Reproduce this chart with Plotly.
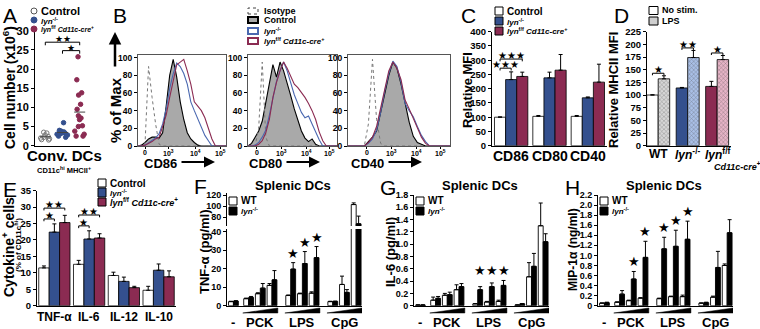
import plotly.graph_objects as go
import numpy as np

W, H = 760, 329
def PX(v): return v / W
def PY(v): return 1 - v / H

FONT = "Liberation Sans, Arial, sans-serif"
STARF = "DejaVu Sans"
BLUE = "#34508e"
RED = "#8b2b52"
HISTGRAY = "#a9a9a9"

# ---------------- DATA ----------------
# Panel A: conventional DC numbers (x10^6)
A_control = [3.5, 3.3, 2.8, 2.4, 2.2, 2.0, 1.8, 1.6, 1.5]
A_lyn = [6.0, 4.0, 3.8, 3.6, 3.5, 3.3, 3.2, 3.0, 2.8, 2.5, 2.2]
A_flox = [23.2, 17.2, 13.8, 13.2, 10.8, 9.5, 7.8, 7.2, 6.8, 5.2, 5.0, 3.8, 3.0, 2.5, 2.5]

# Panel B: histograms (% of max) on a channel grid (0-100 display units)
B_channel = [0, 4, 8, 12, 16, 20, 24, 28, 32, 36, 40, 44, 48, 52, 56, 60, 64, 68, 72, 76, 80, 84, 88, 92, 96, 100]
B_tick_labels = ["0", "10<sup>3</sup>", "10<sup>4</sup>", "10<sup>5</sup>"]
CD86_iso = [0, 0, 3, 90, 55, 25, 2, 0, 0, 0, 0, 0, 0, 0, 0, 0, 0, 0, 0, 0, 0, 0, 0, 0, 0, 0]
CD86_ctrl = [0, 1, 4, 8, 10, 10, 9, 15, 45, 80, 98, 78, 50, 30, 15, 8, 4, 1, 0, 0, 0, 0, 0, 0, 0, 0]
CD86_lyn = [0, 0, 1, 4, 7, 9, 14, 25, 42, 65, 82, 94, 90, 82, 70, 50, 40, 30, 22, 12, 6, 0, 0, 0, 0, 0]
CD86_flox = [0, 0, 1, 3, 5, 8, 10, 22, 35, 55, 75, 92, 95, 98, 85, 70, 50, 45, 40, 32, 20, 8, 0, 0, 0, 0]
CD80_iso = [0, 0, 0, 20, 95, 10, 0, 0, 0, 0, 0, 0, 0, 0, 0, 0, 0, 0, 0, 0, 0, 0, 0, 0, 0, 0]
CD80_ctrl = [0, 3, 10, 17, 28, 48, 72, 92, 78, 95, 85, 72, 57, 42, 28, 17, 9, 5, 8, 2, 0, 0, 0, 0, 0, 0]
CD80_lyn = [0, 0, 1, 4, 10, 18, 35, 55, 73, 85, 95, 85, 72, 58, 48, 38, 32, 34, 25, 15, 7, 0, 0, 0, 0, 0]
CD80_flox = [0, 0, 0, 2, 6, 15, 30, 55, 72, 85, 95, 88, 78, 70, 66, 61, 55, 48, 40, 30, 16, 6, 0, 0, 0, 0]
CD40_iso = [0, 0, 0, 0, 0, 25, 98, 30, 3, 0, 0, 0, 0, 0, 0, 0, 0, 0, 0, 0, 0, 0, 0, 0, 0, 0]
CD40_ctrl = [0, 0, 0, 0, 0, 5, 10, 17, 38, 60, 80, 95, 88, 70, 50, 27, 11, 4, 2, 0, 0, 0, 0, 0, 0, 0]
CD40_lyn = [0, 0, 0, 0, 0, 3, 8, 18, 38, 62, 82, 96, 90, 72, 48, 40, 33, 22, 12, 5, 0, 0, 0, 0, 0, 0]
CD40_flox = [0, 0, 0, 0, 0, 4, 10, 22, 42, 65, 85, 95, 88, 75, 52, 42, 32, 22, 10, 3, 0, 0, 0, 0, 0, 0]

# Panel C: relative MFI
C_markers = ["CD86", "CD80", "CD40"]
C_ctrl = [100, 103, 103]
C_ctrl_err = [1, 3, 3]
C_lyn = [232, 238, 168]
C_lyn_err = [27, 20, 3]
C_flox = [243, 265, 223]
C_flox_err = [15, 55, 63]

# Panel D: relative MHCII MFI
D_genotypes = ["WT", "<i>lyn</i><sup>-/-</sup>", "<i>lyn</i><sup>f/f</sup>"]
D_nostim = [100, 114, 117]
D_nostim_err = [0.5, 1, 10]
D_lps = [132, 174, 170]
D_lps_err = [6, 14, 8]

# Panel E: cytokine+ cells (% of CD11chi)
E_cytokines = ["TNF-α", "IL-6", "IL-12", "IL-10"]
E_ctrl = [11.5, 12.6, 9.2, 4.7]
E_ctrl_err = [0.6, 1.2, 1.0, 1.2]
E_lyn = [22.4, 20.3, 7.4, 10.8]
E_lyn_err = [2.5, 2.5, 1.3, 1.9]
E_flox = [25.3, 20.6, 5.5, 8.8]
E_flox_err = [2.2, 1.3, 0.4, 1.8]

# Panels F-H: splenic DCs, conditions: -, PCK x3, LPS x3, CpG x3
stim_groups = ["-", "PCK", "LPS", "CpG"]
F_wt = [2.2, 3.8, 6.5, 11.0, 5.5, 6.5, 6.8, 2.2, 11.5, 103.0]
F_wt_err = [0.2, 0.3, 0.5, 1.0, 0.3, 0.3, 0.7, 0.2, 4.5, 3.0]
F_lyn = [2.5, 4.5, 9.5, 14.0, 19.8, 22.8, 26.0, 2.3, 7.2, 68.0]
F_lyn_err = [0.2, 0.5, 2.5, 5.0, 3.5, 6.5, 6.0, 0.2, 1.5, 14.0]
G_wt = [0.01, 0.09, 0.17, 0.26, 0.03, 0.06, 0.07, 0.01, 0.47, 1.30]
G_wt_err = [0.005, 0.05, 0.03, 0.08, 0.005, 0.01, 0.02, 0.005, 0.23, 0.37]
G_lyn = [0.01, 0.12, 0.18, 0.31, 0.26, 0.31, 0.33, 0.03, 0.64, 1.04]
G_lyn_err = [0.005, 0.03, 0.04, 0.05, 0.05, 0.06, 0.08, 0.005, 0.21, 0.13]
H_wt = [0.05, 0.07, 0.10, 0.15, 0.14, 0.18, 0.18, 0.05, 0.17, 0.80]
H_wt_err = [0.005, 0.005, 0.01, 0.01, 0.01, 0.01, 0.03, 0.005, 0.02, 0.03]
H_lyn = [0.06, 0.23, 0.53, 0.96, 1.13, 1.18, 1.32, 0.06, 0.76, 1.45]
H_lyn_err = [0.01, 0.07, 0.15, 0.32, 0.23, 0.32, 0.36, 0.01, 0.32, 0.26]
F_star_idx = [4, 5, 6]
G_star_idx = [4, 5, 6]
H_star_idx = [2, 3, 4, 5, 6]

# ---------------- LAYOUT HELPERS ----------------
# slot positions of the 10 stimulation conditions along x (layout only)
slot_x = [0, 1.3, 2.3, 3.3, 4.9, 5.9, 6.9, 8.5, 9.5, 10.5]
group_slots = [[0], [1, 2, 3], [4, 5, 6], [7, 8, 9]]

fig = go.Figure()
shapes, annots = [], []
axes = {}

def tfont(size=9, family=FONT, weight='bold', color='black'):
    return dict(family=family, size=size, color=color, weight=weight)

def xax(d0, d1, rng, anchor, **kw):
    b = dict(domain=[PX(d0), PX(d1)], range=rng, anchor=anchor, showline=True, linecolor='black',
             linewidth=1, showgrid=False, zeroline=False, ticks='', showticklabels=False,
             automargin=False, fixedrange=True, tickfont=tfont(10))
    b.update(kw)
    return b

def yax(top, bottom, rng, anchor, **kw):
    b = dict(domain=[PY(bottom), PY(top)], range=rng, anchor=anchor, showline=True, linecolor='black',
             linewidth=1, showgrid=False, zeroline=False, ticks='outside', ticklen=3, tickwidth=1,
             tickcolor='black', automargin=False, fixedrange=True, tickfont=tfont(9))
    b.update(kw)
    return b

def text_px(x, y, s, size=10, xanchor='left', yanchor='middle', angle=0, weight='bold', family=FONT):
    annots.append(dict(xref='paper', yref='paper', x=PX(x), y=PY(y), text=s, showarrow=False,
                       xanchor=xanchor, yanchor=yanchor, textangle=angle,
                       font=tfont(size, family, weight)))

def text_data(xr, x, y_px, s, size):
    annots.append(dict(xref=xr, yref='paper', x=x, y=PY(y_px), text=s, showarrow=False,
                       xanchor='center', yanchor='middle', font=tfont(size)))

def rect_px(x0, y0, x1, y1, fill, line='black', lw=1, dash='solid'):
    shapes.append(dict(type='rect', xref='paper', yref='paper', x0=PX(x0), x1=PX(x1),
                       y0=PY(y1), y1=PY(y0), fillcolor=fill, line=dict(color=line, width=lw, dash=dash)))

def circle_px(cx, cy, r, fill, line):
    shapes.append(dict(type='circle', xref='paper', yref='paper', x0=PX(cx - r), x1=PX(cx + r),
                       y0=PY(cy + r), y1=PY(cy - r), fillcolor=fill, line=dict(color=line, width=1)))

def bracket(xr, yr, x0, x1, y, drop, label, size=11):
    shapes.append(dict(type='path', xref=xr, yref=yr,
                       path=f"M {x0},{y - drop} L {x0},{y} L {x1},{y} L {x1},{y - drop}",
                       line=dict(color='black', width=1)))
    annots.append(dict(xref=xr, yref=yr, x=(x0 + x1) / 2, y=y, text=label, showarrow=False,
                       xanchor='center', yanchor='bottom', yshift=-4, font=tfont(size, STARF, 'normal')))

def err(arr):
    return dict(type='data', array=arr, arrayminus=[0] * len(arr), symmetric=False,
                color='black', thickness=1, width=2)

# ---------------- PANEL A ----------------
axes['xaxis'] = xax(35, 90, [-0.6, 2.6], 'y')
axes['yaxis'] = yax(30.7, 145.7, [0, 30], 'x', tickvals=[0, 5, 10, 15, 20, 25, 30], tickfont=tfont(11))
A_sets = [(A_control, 'circle-open', '#7a7a7a'), (A_lyn, 'circle', BLUE), (A_flox, 'circle', RED)]
for i, (vals, sym, col) in enumerate(A_sets):
    fig.add_trace(go.Box(x=[i] * len(vals), y=vals, xaxis='x', yaxis='y', boxpoints='all', jitter=1,
                         pointpos=0, width=0.75, fillcolor='rgba(0,0,0,0)',
                         line=dict(color='rgba(0,0,0,0)', width=0),
                         marker=dict(symbol=sym, color=col, size=4.5, line=dict(color=col, width=1))))
    m = float(np.mean(vals))
    fig.add_trace(go.Scatter(x=[i - 0.32, i + 0.32], y=[m, m], mode='lines', xaxis='x', yaxis='y',
                             line=dict(color='#444', width=1)))
bracket('x', 'y', 0, 2, 27.0, 0.8, '★★', 9)
bracket('x', 'y', 1, 2, 24.8, 0.8, '★', 9)
text_px(9, 88, "Cell number (x10<sup>6</sup>)", 14, 'center', 'middle', -90)
text_px(64, 156, "Conv. DCs", 15, 'center')
text_px(64, 170.5, "CD11c<sup>hi</sup> MHCII<sup>+</sup>", 7.5, 'center')
circle_px(34, 11, 3, 'white', '#555')
circle_px(34, 20, 3, BLUE, BLUE)
circle_px(34, 29, 3, RED, RED)
text_px(39, 11, "Control", 11)
text_px(39, 20.5, "<i>lyn</i><sup>-/-</sup>", 8)
text_px(39, 29.5, "<i>lyn</i><sup>f/f</sup> <i>Cd11c-cre</i><sup>+</sup>", 7)

# ---------------- PANEL B ----------------
B_panels = [
    (2, 138, 226, [8, 34.4, 64.8, 93.2], CD86_iso, CD86_ctrl, CD86_lyn, CD86_flox, "CD86", 160),
    (3, 248, 337, [9.8, 37.9, 66, 92.1], CD80_iso, CD80_ctrl, CD80_lyn, CD80_flox, "CD80", 265),
    (4, 348, 450, [18.3, 42.8, 67.4, 90.2], CD40_iso, CD40_ctrl, CD40_lyn, CD40_flox, "CD40", 367),
]
for n, x0, x1, tv, iso, ctrl, lyn, flox, lab, lx in B_panels:
    xa, ya = f'x{n}', f'y{n}'
    axes[f'xaxis{n}'] = xax(x0, x1, [0, 100], ya, mirror=True, linecolor='#555', ticks='outside',
                            ticklen=2, tickcolor='black', tickvals=tv)
    axes[f'yaxis{n}'] = yax(55, 146, [0, 103], xa, mirror=True, linecolor='#555',
                            tickvals=[0, 20, 40, 60, 80, 100], tickfont=tfont(8.5))
    for t, s in zip(tv, B_tick_labels):
        annots.append(dict(xref=xa, yref='paper', x=t, y=PY(146.5), text=s, showarrow=False,
                           xanchor='center', yanchor='top', font=tfont(7)))
    fig.add_trace(go.Scatter(x=B_channel, y=ctrl, xaxis=xa, yaxis=ya, mode='lines', fill='tozeroy',
                             fillcolor=HISTGRAY, line=dict(color='black', width=1.1)))
    fig.add_trace(go.Scatter(x=B_channel, y=iso, xaxis=xa, yaxis=ya, mode='lines',
                             line=dict(color='#777', width=1, dash='dot')))
    fig.add_trace(go.Scatter(x=B_channel, y=lyn, xaxis=xa, yaxis=ya, mode='lines',
                             line=dict(color='#4a68b0', width=1.1)))
    fig.add_trace(go.Scatter(x=B_channel, y=flox, xaxis=xa, yaxis=ya, mode='lines',
                             line=dict(color=RED, width=1.1)))
    text_px(lx, 163, lab, 13, 'center')
    annots.append(dict(xref='paper', yref='paper', x=PX(lx + 55), y=PY(162), ax=-35, ay=0,
                       axref='pixel', ayref='pixel', showarrow=True, arrowhead=2, arrowsize=1,
                       arrowwidth=2.2, arrowcolor='black', text=''))
text_px(115, 110, "% of Max", 15, 'center', 'middle', -90)
annots.append(dict(xref='paper', yref='paper', x=PX(115), y=PY(32), ax=0, ay=36, axref='pixel',
                   ayref='pixel', showarrow=True, arrowhead=2, arrowsize=1, arrowwidth=2.5,
                   arrowcolor='black', text=''))
# B legend
rect_px(248, 8, 258, 14, 'white', '#444', 1, 'dot')
rect_px(248, 17, 258, 23, HISTGRAY, 'black', 2)
rect_px(248, 28, 258, 34, 'white', '#4a68b0', 2)
rect_px(248, 38, 258, 44, 'white', RED, 2)
text_px(262, 11, "Isotype", 9)
text_px(262, 20, "Control", 9)
text_px(262, 31, "<i>lyn</i><sup>-/-</sup>", 8)
text_px(262, 41, "<i>lyn</i><sup>f/f</sup> <i>Cd11c-cre</i><sup>+</sup>", 8)

# ---------------- PANEL C ----------------
wC = 0.29
axes['xaxis5'] = xax(492, 607, [-0.5, 2.5], 'y5')
axes['yaxis5'] = yax(31.7, 145.7, [0, 400], 'x5', tickvals=list(range(0, 401, 50)), tickfont=tfont(9.5))
for i, s in enumerate(C_markers):
    text_data('x5', i, 156, s, 14)
for k, (vals, e, col) in enumerate([(C_ctrl, C_ctrl_err, 'white'), (C_lyn, C_lyn_err, BLUE),
                                     (C_flox, C_flox_err, RED)]):
    fig.add_trace(go.Bar(x=[0, 1, 2], y=vals, xaxis='x5', yaxis='y5', width=wC,
                         offset=-1.5 * wC + k * wC, marker=dict(color=col, line=dict(color='black', width=0.8)),
                         error_y=err(e)))
bracket('x5', 'y5', -wC, 0, 272, 8, '★★★', 10)
bracket('x5', 'y5', -wC, wC, 304, 8, '★★★', 10)
text_px(467, 90, "Relative MFI", 13, 'center', 'middle', -90)
rect_px(495, 7, 503, 15, 'white')
rect_px(495, 17, 503, 25, BLUE)
rect_px(495, 27, 503, 35, RED)
text_px(505, 11, "Control", 10)
text_px(505, 21.5, "<i>lyn</i><sup>-/-</sup>", 8)
text_px(505, 31.5, "<i>lyn</i><sup>f/f</sup> <i>Cd11c-cre</i><sup>+</sup>", 8)

# ---------------- PANEL D ----------------
wD = 0.39
axes['xaxis6'] = xax(647, 731, [-0.38, 2.47], 'y6')
axes['yaxis6'] = yax(31.7, 145.7, [0, 225], 'x6', tickvals=list(range(0, 226, 25)), tickfont=tfont(9.5))
for i, s in enumerate(D_genotypes):
    text_data('x6', i, 154, s, 12)
fig.add_trace(go.Bar(x=[0, 1, 2], y=D_nostim, xaxis='x6', yaxis='y6', width=wD, offset=-wD,
                     marker=dict(color=['white', BLUE, RED], line=dict(color='black', width=0.8)),
                     error_y=err(D_nostim_err)))
fig.add_trace(go.Bar(x=[0, 1, 2], y=D_lps, xaxis='x6', yaxis='y6', width=wD, offset=0,
                     marker=dict(color=['#d6d6d6', '#a9bfe6', '#e6b3c6'],
                                 line=dict(color='black', width=0.8),
                                 pattern=dict(shape='x', size=3, solidity=0.3,
                                              bgcolor=['#dadada', '#aec3e8', '#e8b6c8'],
                                              fgcolor=['#7a7a7a', '#4a68a8', '#a8506f'])),
                     error_y=err(D_lps_err)))
for i, lab in enumerate(['★', '★★', '★']):
    top = max(D_nostim[i] + D_nostim_err[i], D_lps[i] + D_lps_err[i]) + 5
    bracket('x6', 'y6', i - wD / 2, i + wD / 2, top, 4, lab, 10)
text_px(613, 90, "Relative MHCII MFI", 13, 'center', 'middle', -90)
text_px(737, 166, "<i>Cd11c-cre</i><sup>+</sup>", 9, 'center')
rect_px(649, 6.5, 658, 14.5, 'white')
rect_px(649, 17, 658, 25, '#cfcfcf')
text_px(660, 10.5, "No stim.", 9)
text_px(660, 21, "LPS", 9)

# ---------------- PANEL E ----------------
wE = 0.3
axes['xaxis7'] = xax(37, 176, [-0.5, 3.5], 'y7')
axes['yaxis7'] = yax(190.7, 305.7, [0, 35], 'x7', tickvals=list(range(0, 36, 5)), tickfont=tfont(9.5))
for i, s in enumerate(E_cytokines):
    text_data('x7', i, 317, s, 12)
for k, (vals, e, col) in enumerate([(E_ctrl, E_ctrl_err, 'white'), (E_lyn, E_lyn_err, BLUE),
                                     (E_flox, E_flox_err, RED)]):
    fig.add_trace(go.Bar(x=[0, 1, 2, 3], y=vals, xaxis='x7', yaxis='y7', width=wE,
                         offset=-1.5 * wE + k * wE, marker=dict(color=col, line=dict(color='black', width=0.8)),
                         error_y=err(e)))
for c in [0, 1]:
    lo = E_lyn[c] + E_lyn_err[c] + 1.5
    hi = max(E_flox[c] + E_flox_err[c], lo + 1.5) + 1.8
    bracket('x7', 'y7', c - wE, c, lo, 0.7, '★', 10)
    bracket('x7', 'y7', c - wE, c + wE, hi, 0.7, '★★', 10)
text_px(8, 247, "Cytokine<sup>+</sup> cells", 14, 'center', 'middle', -90)
text_px(18, 245, "(% of CD11c<sup>hi</sup>)", 8, 'center', 'middle', -90)
rect_px(98, 179, 106, 187, 'white')
rect_px(98, 188, 106, 197, BLUE)
rect_px(98, 198, 106, 206, RED)
text_px(108, 183, "Control", 10)
text_px(108, 193, "<i>lyn</i><sup>-/-</sup>", 8)
text_px(108, 202, "<i>lyn</i><sup>f/f</sup> <i>Cd11c-cre</i><sup>+</sup>", 9)

# ---------------- PANELS F, G, H ----------------
wS = 0.42
def stim_panel(xn, yns, x0, x1, wt, wt_e, lyn, lyn_e, star_idx, star_fixed=None):
    xa = f'x{xn}'
    for yn in yns:
        ya = f'y{yn}'
        fig.add_trace(go.Bar(x=slot_x, y=wt, xaxis=xa, yaxis=ya, width=wS, offset=-wS,
                             marker=dict(color='white', line=dict(color='black', width=0.9)),
                             error_y=err(wt_e)))
        fig.add_trace(go.Bar(x=slot_x, y=lyn, xaxis=xa, yaxis=ya, width=wS, offset=0,
                             marker=dict(color='black', line=dict(color='black', width=0.9)),
                             error_y=err(lyn_e)))
    ya = f'y{yns[0]}'
    for i in star_idx:
        yv = star_fixed if star_fixed is not None else lyn[i] + lyn_e[i]
        annots.append(dict(xref=xa, yref=ya, x=slot_x[i] + wS / 2, y=yv, text='★', showarrow=False,
                           xanchor='center', yanchor='bottom', yshift=0, font=tfont(13, STARF, 'normal')))
    # dose wedges and group labels
    for g, slots in enumerate(group_slots):
        xs = [slot_x[s] for s in slots]
        if len(slots) > 1:
            a, b = min(xs) - 0.5, max(xs) + 0.5
            shapes.append(dict(type='path', xref=xa, yref='paper',
                               path=f"M {a},{PY(313)} L {b},{PY(313)} L {b},{PY(308)} Z",
                               fillcolor='black', line=dict(color='black', width=0.5)))
        text_data(xa, float(np.mean(xs)), 322, stim_groups[g], 13)
    # legend
    rect_px(x0 + 2, 197, x0 + 10, 205, 'white')
    rect_px(x0 + 2, 207, x0 + 10, 215, 'black')
    text_px(x0 + 12, 201, "WT", 10)
    text_px(x0 + 12, 211, "<i>lyn</i><sup>-/-</sup>", 8)
    text_px((x0 + x1) / 2 - 2, 185, "Splenic DCs", 13, 'center')

xr = [-0.55, 11.0]
# F: broken axis
axes['xaxis8'] = xax(227, 362, xr, 'y8')
axes['yaxis8'] = yax(229, 305.7, [0, 41.5], 'x8', tickvals=[0, 10, 20, 30, 40])
axes['yaxis9'] = yax(193, 226, [64, 124], 'x8', tickvals=[80, 100, 120])
stim_panel(8, [8, 9], 227, 362, F_wt, F_wt_err, F_lyn, F_lyn_err, F_star_idx)
text_px(204, 252, "TNF-α (pg/ml)", 13, 'center', 'middle', -90)
# G
axes['xaxis9'] = xax(414, 549, xr, 'y10')
g_ticks = [0, 0.2, 0.4, 0.6, 0.8, 1.0, 1.2, 1.4, 1.6, 1.8]
axes['yaxis10'] = yax(195, 305.7, [0, 1.8], 'x9', tickvals=g_ticks,
                      ticktext=["0"] + [f"{v:.1f}" for v in g_ticks[1:]])
g_star = max(G_lyn[i] + G_lyn_err[i] for i in G_star_idx)
stim_panel(9, [10], 414, 549, G_wt, G_wt_err, G_lyn, G_lyn_err, G_star_idx, g_star)
text_px(390, 252, "IL-6 (pg/ml)", 13, 'center', 'middle', -90)
# H
axes['xaxis10'] = xax(598, 733, xr, 'y11')
h_ticks = [0, 0.2, 0.4, 0.6, 0.8, 1.0, 1.2, 1.4, 1.6, 1.8, 2.0, 2.2]
axes['yaxis11'] = yax(195, 305.7, [0, 2.2], 'x10', tickvals=h_ticks,
                      ticktext=["0"] + [f"{v:.1f}" for v in h_ticks[1:]])
stim_panel(10, [11], 598, 733, H_wt, H_wt_err, H_lyn, H_lyn_err, H_star_idx)
text_px(573, 250, "MIP-1α (ng/ml)", 12, 'center', 'middle', -90)

# ---------------- PANEL LETTERS ----------------
for L, x, y in [("A", 1, 2), ("B", 111, 2), ("C", 459, 2), ("D", 612, 2),
                ("E", 1, 176), ("F", 192, 173), ("G", 378, 174), ("H", 563, 174)]:
    text_px(x, y, L, 21, 'left', 'top', 0, 'normal')

fig.update_layout(width=W, height=H, margin=dict(l=0, r=0, t=0, b=0), paper_bgcolor='white',
                  plot_bgcolor='rgba(0,0,0,0)', showlegend=False, barmode='overlay',
                  shapes=shapes, annotations=annots, **axes)
fig.write_html("out.html", config={'displayModeBar': False},
               post_script="document.body.style.margin='0px';document.body.style.padding='0px';")
